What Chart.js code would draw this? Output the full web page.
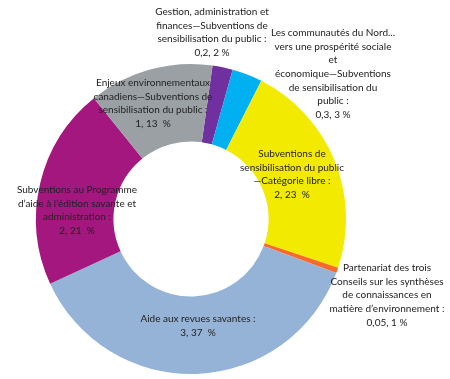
<!DOCTYPE html>
<html>
<head>
<meta charset="utf-8">
<script src="https://cdn.jsdelivr.net/npm/chart.js@4.4.0/dist/chart.umd.min.js"></script>
<style>
html,body{margin:0;padding:0;background:#fff;}
#wrap{width:450px;height:379px;}
</style>
</head>
<body>
<div id="wrap"><canvas id="c" width="450" height="379"></canvas></div>
<script>
const categories = [
  "Gestion, administration et finances—Subventions de sensibilisation du public",
  "Les communautés du Nord... vers une prospérité sociale et économique—Subventions de sensibilisation du public",
  "Subventions de sensibilisation du public—Catégorie libre",
  "Partenariat des trois Conseils sur les synthèses de connaissances en matière d’environnement",
  "Aide aux revues savantes",
  "Subventions au Programme d’aide à l’édition savante et administration",
  "Enjeux environnementaux canadiens—Subventions de sensibilisation du public"
];
const values = [0.18, 0.27, 1.93, 0.05, 3.2, 1.8, 1.11];
const valueLabels = ["0,2", "0,3", "2", "0,05", "3", "2", "1"];
const percentLabels = ["2 %", "3 %", "23  %", "1 %", "37  %", "21  %", "13  %"];
const labelLines = [
  ["Gestion, administration et", "finances—Subventions de", "sensibilisation du public :"],
  ["Les communautés du Nord...", "vers une prospérité sociale", "et", "économique—Subventions", "de sensibilisation du", "public :"],
  ["Subventions de", "sensibilisation du public", "—Catégorie libre :"],
  ["Partenariat des trois", "Conseils sur les synthèses", "de connaissances en", "matière d’environnement :"],
  ["Aide aux revues savantes :"],
  ["Subventions au Programme", "d’aide à l’édition savante et", "administration :"],
  ["Enjeux environnementaux", "canadiens—Subventions de", "sensibilisation du public :"]
];
const colors = ["#7030A0", "#00B0F0", "#F2EA00", "#F8692A", "#95B3D7", "#A3177F", "#9BA0A4"];
// label block anchor (centre x, first line y) relative to doughnut centre
const labelAnchors = [[21, -207], [142, -186], [101, -65], [196, 49], [7, 100], [-114, -29], [-38, -136]];

const labelPlugin = {
  id: 'sliceLabels',
  afterDraw(chart) {
    const ctx = chart.ctx;
    const arc = chart.getDatasetMeta(0).data[0];
    const cx = arc.x, cy = arc.y;
    ctx.save();
    ctx.fillStyle = '#222222';
    ctx.font = '10px Lato, "Liberation Sans", sans-serif';
    ctx.textAlign = 'center';
    ctx.textBaseline = 'middle';
    const lh = 13.6;
    labelLines.forEach((lines, i) => {
      const all = lines.concat([valueLabels[i] + ", " + percentLabels[i]]);
      const [ax, ay] = labelAnchors[i];
      all.forEach((t, j) => ctx.fillText(t, cx + ax, cy + ay + j * lh));
    });
    ctx.restore();
  }
};

new Chart(document.getElementById('c'), {
  type: 'doughnut',
  data: {
    labels: categories,
    datasets: [{
      data: values,
      backgroundColor: colors,
      borderWidth: 0
    }]
  },
  options: {
    responsive: false,
    animation: false,
    rotation: 8,
    cutout: '50%',
    layout: { padding: { left: 36, right: 104, top: 64, bottom: 5 } },
    plugins: { legend: { display: false }, tooltip: { enabled: false } }
  },
  plugins: [labelPlugin]
});
</script>
</body>
</html>
